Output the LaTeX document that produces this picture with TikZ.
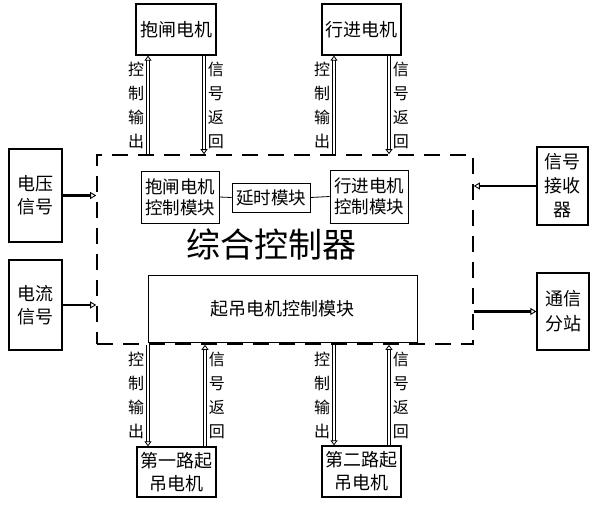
\documentclass[tikz,border=0pt]{standalone}
\usepackage{fontspec}
\setmainfont{Noto Sans CJK SC}
\usetikzlibrary{arrows.meta}

\begin{document}
\begin{tikzpicture}[x=1pt, y=-1pt,
    motorbox/.style={draw, line width=1.3pt, align=center, inner sep=0pt, font=\fontsize{18}{23}\selectfont},
    modbox/.style={draw, line width=0.9pt, align=center, inner sep=0pt, font=\fontsize{17.5}{21}\selectfont},
    sigline/.style={double, line width=0.9pt, double distance=1.4pt, -{Triangle[open,length=5pt,width=7pt,line width=0.8pt]}},
    inline/.style={line width=2.6pt, -{Triangle[open,length=6pt,width=7pt,line width=0.9pt]}},
    vlabel/.style={align=center, font=\fontsize{16}{24}\selectfont}]
  \useasboundingbox (0,0) rectangle (592,504);
  \node[motorbox, minimum width=80pt, minimum height=51pt] (zha) at (176,29.5) {抱闸电机};
  \node[motorbox, minimum width=79pt, minimum height=51pt] (xing) at (361.5,29.5) {行进电机};
  \node[motorbox, minimum width=79pt, minimum height=50pt] (diyi) at (176.5,472) {第一路起\\吊电机};
  \node[motorbox, minimum width=79pt, minimum height=51pt] (dier) at (361.5,471.5) {第二路起\\吊电机};
  \node[motorbox, minimum width=53pt, minimum height=93pt] (ya) at (35.5,195.5) {电压\\信号};
  \node[motorbox, minimum width=53pt, minimum height=90pt] (liu) at (35.5,305) {电流\\信号};
  \node[motorbox, minimum width=51pt, minimum height=78pt, font=\fontsize{18}{24}\selectfont] (jie) at (562.5,186) {信号\\接收\\器};
  \node[motorbox, minimum width=52pt, minimum height=77pt, font=\fontsize{18}{25}\selectfont] (tong) at (563,311.5) {通信\\分站};
  \node[draw, line width=1.6pt, dash pattern=on 16pt off 10pt, minimum width=376pt, minimum height=189pt] (ctrl) at (285,249.5) {};
  \node[modbox, minimum width=78pt, minimum height=52pt] (zhamod) at (180,197) {抱闸电机\\控制模块};
  \node[modbox, minimum width=78pt, minimum height=29pt] (yanshi) at (271,197.5) {延时模块};
  \node[modbox, minimum width=78pt, minimum height=53pt] (xingmod) at (369,196.5) {行进电机\\控制模块};
  \node[font=\fontsize{34}{34}\selectfont] (title) at (271,244) {综合控制器};
  \node[modbox, minimum width=269pt, minimum height=67pt, font=\fontsize{18}{18}\selectfont] (qidiao) at (282.5,308.5) {起吊电机控制模块};
  \draw[line width=0.8pt] (zhamod.east) -- (yanshi.west);
  \draw[line width=0.8pt] (yanshi.east) -- (xingmod.west);
  \draw[sigline] ([xshift=-28pt]zha.south |- ctrl.north) -- ([xshift=-28pt]zha.south) node[midway, left, vlabel] {控\\制\\输\\出};
  \draw[sigline] ([xshift=28pt]zha.south) -- ([xshift=28pt]zha.south |- ctrl.north) node[midway, right, vlabel] {信\\号\\返\\回};
  \draw[sigline] ([xshift=-27.5pt]xing.south |- ctrl.north) -- ([xshift=-27.5pt]xing.south) node[midway, left, vlabel] {控\\制\\输\\出};
  \draw[sigline] ([xshift=27.5pt]xing.south) -- ([xshift=27.5pt]xing.south |- ctrl.north) node[midway, right, vlabel] {信\\号\\返\\回};
  \draw[sigline] ([xshift=-28.5pt]diyi.north |- ctrl.south) -- ([xshift=-28.5pt]diyi.north) node[midway, left, vlabel] {控\\制\\输\\出};
  \draw[sigline] ([xshift=28.5pt]diyi.north) -- ([xshift=28.5pt]diyi.north |- ctrl.south) node[midway, right, vlabel] {信\\号\\返\\回};
  \draw[sigline] ([xshift=-27.5pt]dier.north |- ctrl.south) -- ([xshift=-27.5pt]dier.north) node[midway, left, vlabel] {控\\制\\输\\出};
  \draw[sigline] ([xshift=27.5pt]dier.north) -- ([xshift=27.5pt]dier.north |- ctrl.south) node[midway, right, vlabel] {信\\号\\返\\回};
  \draw[inline] (ya.east) -- (ya.east -| ctrl.west);
  \draw[inline] (liu.east) -- (liu.east -| ctrl.west);
  \draw[inline] (jie.west) -- (jie.west -| ctrl.east);
  \draw[inline, {Triangle[open,length=6pt,width=7pt,line width=0.9pt]}-] (tong.west) -- (tong.west -| ctrl.east);
\end{tikzpicture}
\end{document}
